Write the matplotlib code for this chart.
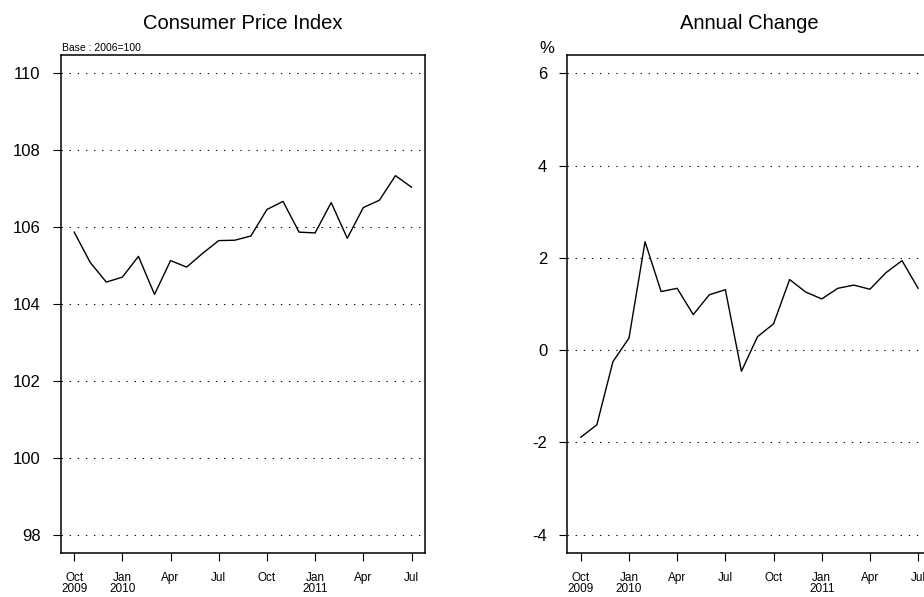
import numpy as np
import matplotlib
matplotlib.use('Agg')
from matplotlib import pyplot as plt

plt.rcParams['font.family'] = ['Liberation Sans', 'DejaVu Sans']

# monthly data, Oct 2009 .. Jul 2011
cpi = [105.87, 105.08, 104.57, 104.70, 105.24, 104.25, 105.13, 104.96,
       105.32, 105.65, 105.66, 105.77, 106.46, 106.67, 105.87, 105.85,
       106.64, 105.71, 106.51, 106.70, 107.34, 107.04]
change = [-1.89, -1.62, -0.25, 0.26, 2.35, 1.27, 1.34, 0.77,
          1.20, 1.31, -0.46, 0.29, 0.57, 1.53, 1.26, 1.11,
          1.34, 1.41, 1.32, 1.68, 1.94, 1.34]
tick_pos = [0, 3, 6, 9, 12, 15, 18, 21]
tick_lab = ['Oct\n2009', 'Jan\n2010', 'Apr', 'Jul', 'Oct', 'Jan\n2011', 'Apr', 'Jul']
cpi_ticks = [98, 100, 102, 104, 106, 108, 110]
chg_ticks = [-4, -2, 0, 2, 4, 6]

x = np.arange(len(cpi))

fig = plt.figure(figsize=(9.24, 5.97), dpi=100)
W, H = 924.0, 597.0
bot = 1 - 553 / H
hgt = (553 - 55) / H
wid = (425 - 60.7) / W
ax1 = fig.add_axes([60.7 / W, bot, wid, hgt])
ax2 = fig.add_axes([567.3 / W, bot, wid, hgt])


def style_ax(ax, yticks, lo, hi, title):
    pad = (hi - lo) * 0.04
    ax.set_ylim(lo - pad, hi + pad)
    ax.set_xlim(-0.84, 21.84)
    ax.set_yticks(yticks)
    ax.set_yticklabels([str(v) for v in yticks])
    ax.set_xticks(tick_pos)
    ax.set_xticklabels(tick_lab, fontsize=8.5, linespacing=0.9)
    ax.tick_params(axis='y', direction='out', length=5.5, width=0.8,
                   labelsize=12, pad=9)
    ax.tick_params(axis='x', direction='out', length=5.5, width=0.8, pad=8)
    for y in yticks:
        ax.axhline(y, color='black', lw=0.75, linestyle=(0, (1.3, 6.5)), zorder=1)
    for s in ax.spines.values():
        s.set_linewidth(1.1)
    ax.set_title(title, fontsize=14.5, pad=19)


ax1.plot(x, cpi, color='black', lw=1.0, zorder=3)
style_ax(ax1, cpi_ticks, 98, 110, 'Consumer Price Index')
ax1.annotate('Base : 2006=100', xy=(0, 1), xycoords='axes fraction',
             xytext=(1, 1.5), textcoords='offset points', fontsize=7.5,
             ha='left', va='bottom')

ax2.plot(x, change, color='black', lw=1.0, zorder=3)
style_ax(ax2, chg_ticks, -4, 6, 'Annual Change')
ax2.annotate('%', xy=(0, 1), xycoords='axes fraction',
             xytext=(-14.5, 5), textcoords='offset points', fontsize=12,
             ha='center', va='center')

fig.savefig('out.png', dpi=100)
